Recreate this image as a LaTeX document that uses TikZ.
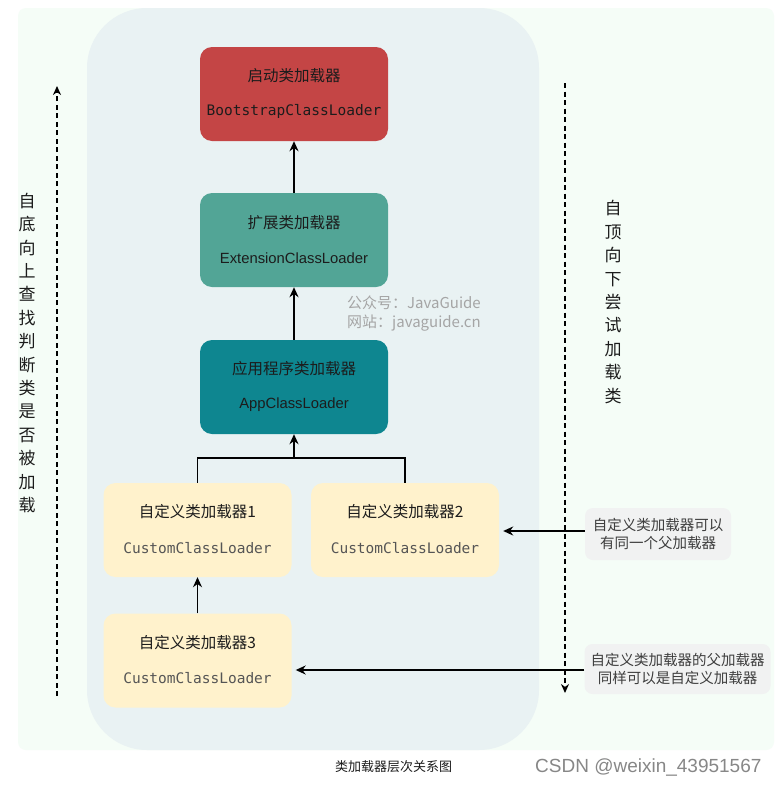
\documentclass[tikz,border=0pt]{standalone}
\usepackage{fontspec}
\setmainfont{Noto Sans CJK SC}
\setmonofont{DejaVu Sans Mono}
\newfontfamily\latfont{Liberation Sans}
\usetikzlibrary{arrows.meta}
\definecolor{mint}{RGB}{245,253,247}
\definecolor{panel}{RGB}{233,242,243}
\definecolor{bootred}{RGB}{196,69,69}
\definecolor{extgreen}{RGB}{82,165,150}
\definecolor{appteal}{RGB}{14,134,144}
\definecolor{cream}{RGB}{255,242,204}
\definecolor{notegray}{RGB}{241,242,242}
\definecolor{txtdark}{RGB}{28,28,28}
\definecolor{txtgray}{RGB}{85,85,85}
\definecolor{wmgray}{RGB}{165,165,165}
\definecolor{csdngray}{RGB}{135,135,135}
\begin{document}
\begin{tikzpicture}[x=1pt,y=-1pt,
  loaderbox/.style={rounded corners=12pt, minimum width=188pt, minimum height=94pt, inner sep=0pt, draw=none},
  titletxt/.style={text=txtdark, font=\fontsize{15.5}{18}\selectfont, inner sep=0pt},
  monotxt/.style={text=txtdark, font=\ttfamily\fontsize{14.5}{17}\selectfont, inner sep=0pt},
  graymono/.style={text=txtgray, font=\ttfamily\fontsize{14.5}{17}\selectfont, inner sep=0pt},
  sanstxt/.style={text=txtdark, font=\latfont\fontsize{14.8}{17}\selectfont, inner sep=0pt},
  notebox/.style={fill=notegray, rounded corners=8pt, inner sep=0pt, align=center, text=txtdark!85, font=\fontsize{14.5}{18}\selectfont},
  arr/.style={line width=1.7pt, -{Stealth[length=10pt,width=9pt]}},
  plain/.style={line width=1.7pt},
  dasharr/.style={line width=1.5pt, dash pattern=on 5pt off 3.5pt, -{Stealth[length=9pt,width=8pt]}},
  vtext/.style={align=center, inner sep=0pt, text=txtdark, font=\fontsize{17}{23.4}\selectfont}
]
\useasboundingbox (0,0) rectangle (779,785);
\fill[white] (0,0) rectangle (779,785);
\fill[mint, rounded corners=8pt] (18,8) rectangle (774,750);
\fill[panel, rounded corners=60pt] (87,8) rectangle (539,750);

% boxes
\node[loaderbox, fill=bootred] (boot) at (294,94) {};
\node[loaderbox, fill=extgreen] (ext) at (294,240) {};
\node[loaderbox, fill=appteal] (app) at (294,387) {};
\node[loaderbox, fill=cream] (c1) at (197.5,530) {};
\node[loaderbox, fill=cream] (c2) at (405,530) {};
\node[loaderbox, fill=cream] (c3) at (197.5,660.5) {};

% box texts
\node[titletxt] (boott) at ([yshift=18pt]boot.center) {启动类加载器};
\node[monotxt] (boots) at ([yshift=-17pt]boot.center) {BootstrapClassLoader};
\node[titletxt] (extt) at ([yshift=17pt]ext.center) {扩展类加载器};
\node[sanstxt] (exts) at ([yshift=-18pt]ext.center) {ExtensionClassLoader};
\node[titletxt] (appt) at ([yshift=18pt]app.center) {应用程序类加载器};
\node[sanstxt] (apps) at ([yshift=-18pt]app.center) {AppClassLoader};
\node[titletxt] (c1t) at ([yshift=18pt]c1.center) {自定义类加载器1};
\node[graymono] (c1s) at ([yshift=-18pt]c1.center) {CustomClassLoader};
\node[titletxt] (c2t) at ([yshift=18pt]c2.center) {自定义类加载器2};
\node[graymono] (c2s) at ([yshift=-18pt]c2.center) {CustomClassLoader};
\node[titletxt] (c3t) at ([yshift=18pt]c3.center) {自定义类加载器3};
\node[graymono] (c3s) at ([yshift=-18pt]c3.center) {CustomClassLoader};

% watermark
\node[anchor=west, inner sep=0pt, text=wmgray, font=\fontsize{15}{19}\selectfont, align=left] (wm) at (347,314) {公众号：JavaGuide\\网站：javaguide.cn};

% notes
\node[notebox, minimum width=146pt, minimum height=52pt] (note1) at (658,534) {自定义类加载器可以\\有同一个父加载器};
\node[notebox, minimum width=186pt, minimum height=50pt] (note2) at (677.5,669) {自定义类加载器的父加载器\\同样可以是自定义加载器};

% connectors
\draw[arr] (ext.north) -- (boot.south);
\draw[arr] (app.north) -- (ext.south);
\coordinate (j) at (294,458);
\draw[plain] (c1.north) |- (j) -| (c2.north);
\draw[arr] (j) -- (app.south);
\draw[arr] (c3.north) -- (c1.south);
\draw[arr, shorten >=4pt] (note1.west |- 0,531) -- (c2.east |- 0,531);
\draw[arr, shorten >=4pt] (note2.west |- 0,670) -- (c3.east |- 0,670);

% dashed side arrows
\coordinate (l1) at (57,696);
\coordinate (l2) at (57,86);
\draw[dasharr] (l1) -- (l2);
\coordinate (r1) at (565,83);
\coordinate (r2) at (565,693);
\draw[dasharr] (r1) -- (r2);

\node[vtext] (ltext) at (27,353) {自\\底\\向\\上\\查\\找\\判\\断\\类\\是\\否\\被\\加\\载};
\node[vtext] (rtext) at (613,302) {自\\顶\\向\\下\\尝\\试\\加\\载\\类};

% captions
\node[inner sep=0pt, text=txtdark, font=\fontsize{13}{15}\selectfont] (cap) at (393.5,767) {类加载器层次关系图};
\node[anchor=west, inner sep=0pt, text=csdngray, font=\latfont\fontsize{19}{22}\selectfont] (csdn) at (535,767) {CSDN @weixin\_43951567};
\end{tikzpicture}
\end{document}
